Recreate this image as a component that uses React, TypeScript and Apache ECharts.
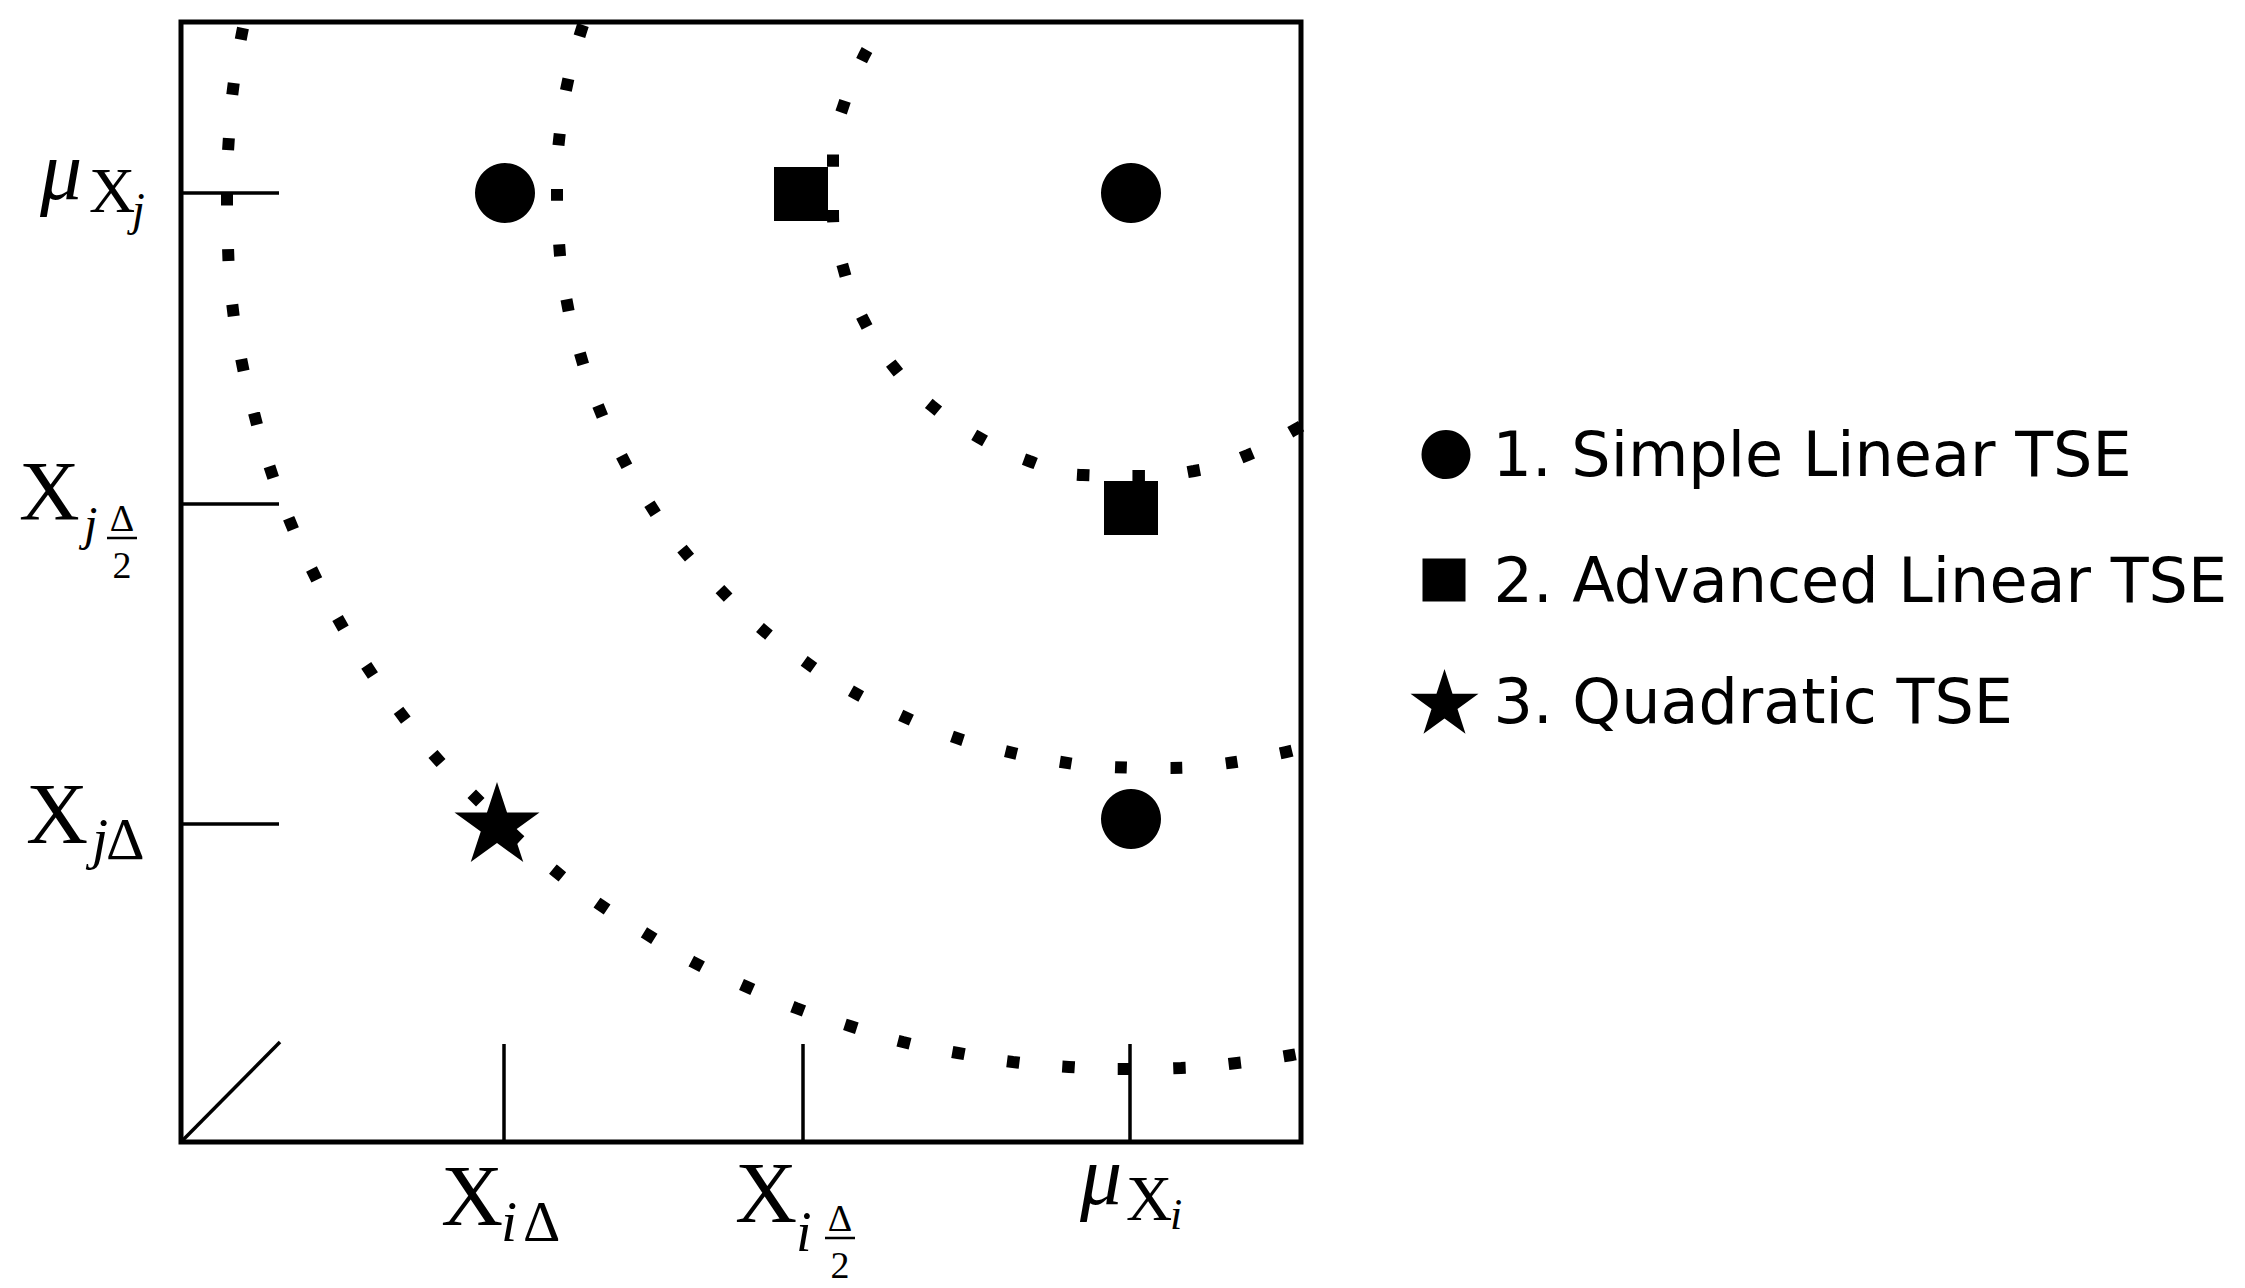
import { useEffect, useRef } from "react";
import * as echarts from "echarts";

// ---------- data (box units 0..112) ----------
const xTickValues = [32.3, 62.2, 94.9]; // X_iΔ, X_iΔ/2, μ_Xi
const yTickValues = [31.8, 63.8, 94.9]; // X_jΔ, X_jΔ/2, μ_Xj
const xTickNames = ["X_{iΔ}", "X_{iΔ/2}", "μ_{X_i}"];
const yTickNames = ["X_{jΔ}", "X_{jΔ/2}", "μ_{X_j}"];

const seriesNames = ["1. Simple Linear TSE", "2. Advanced Linear TSE", "3. Quadratic TSE"];
const simpleLinearPoints = [
  [32.4, 94.9],
  [95.0, 94.9],
  [95.0, 32.3],
];
const advancedLinearPoints = [
  [62.0, 94.8],
  [95.0, 63.4],
];
const quadraticPoints = [[31.6, 32.0]];

const outerCurve = [
  [6.2, 111.4], [5.3, 106.1], [4.8, 100.6], [4.6, 95.1], [4.7, 89.5], [5.1, 84.0],
  [6.0, 78.4], [7.3, 72.9], [8.8, 67.7], [10.8, 62.3], [13.0, 57.4], [15.6, 52.5],
  [18.5, 47.7], [21.8, 43.1], [25.2, 38.8], [29.0, 34.9], [33.1, 30.9], [37.3, 27.2],
  [41.8, 23.8], [46.4, 20.9], [51.2, 18.0], [56.4, 15.6], [61.5, 13.4], [66.9, 11.6],
  [72.2, 10.0], [77.7, 8.9], [83.2, 8.0], [88.8, 7.5], [94.4, 7.3], [100.0, 7.4],
  [105.6, 7.9], [111.1, 8.7], [112.5, 9.0],
];
const middleCurve = [
  [40.2, 111.7], [38.8, 106.6], [37.9, 101.1], [37.6, 95.6], [37.8, 90.0], [38.5, 84.5],
  [39.8, 79.2], [41.6, 73.9], [43.9, 68.9], [46.6, 64.2], [49.8, 59.7], [53.5, 55.7],
  [57.5, 51.8], [61.9, 48.4], [66.5, 45.4], [71.5, 42.9], [76.7, 40.7], [82.0, 39.2],
  [87.4, 38.1], [93.0, 37.5], [98.5, 37.4], [104.0, 37.8], [109.6, 38.8], [112.5, 39.5],
];
const innerCurve = [
  [68.6, 109.2], [66.4, 104.1], [65.2, 98.6], [65.2, 93.1], [66.2, 87.5], [68.2, 82.3],
  [71.2, 77.6], [75.1, 73.6], [79.7, 70.5], [84.8, 68.1], [90.2, 66.7], [95.8, 66.6],
  [101.3, 67.1], [106.7, 68.7], [111.5, 71.3], [112.5, 71.9],
];
const originSegment = [
  [0, 0],
  [9.9, 10.0],
];

// ---------- tick label typography ----------
// run: [text, dx, dy(baseline), fontSize, italic, align]
type Run = [string, number, number, number, boolean, "left" | "center"];
type Bar = [number, number, number];
type LabelLayout = { runs: Run[]; bars: Bar[] };

// dx relative to grid left, dy relative to tick y (order follows yTickValues)
const yLabelLayouts: LabelLayout[] = [
  {
    runs: [
      ["X", -155, 19, 86, false, "left"],
      ["j", -89, 34, 58, true, "left"],
      ["Δ", -75, 35, 60, false, "left"],
    ],
    bars: [],
  },
  {
    runs: [
      ["X", -162, 16, 84, false, "left"],
      ["j", -97, 36, 48, true, "left"],
      ["Δ", -59, 27, 38, false, "center"],
      ["2", -59, 74, 38, false, "center"],
    ],
    bars: [[-74, -44, 34]],
  },
  {
    runs: [
      ["μ", -141, 6, 84, true, "left"],
      ["X", -92, 19, 64, false, "left"],
      ["j", -49, 32, 46, true, "left"],
    ],
    bars: [],
  },
];

// dx relative to tick x, dy relative to grid bottom (order follows xTickValues)
const xLabelLayouts: LabelLayout[] = [
  {
    runs: [
      ["X", -63, 83, 86, false, "left"],
      ["i", -3, 99, 58, true, "left"],
      ["Δ", 19, 99, 58, false, "left"],
    ],
    bars: [],
  },
  {
    runs: [
      ["X", -68, 80, 86, false, "left"],
      ["i", -7, 109, 56, true, "left"],
      ["Δ", 37, 89, 38, false, "center"],
      ["2", 37, 136, 38, false, "center"],
    ],
    bars: [[22, 52, 96]],
  },
  {
    runs: [
      ["μ", -50, 62, 84, true, "left"],
      ["X", -4, 78, 64, false, "left"],
      ["i", 40, 87, 44, true, "left"],
    ],
    bars: [],
  },
];

const SERIF = '"Liberation Serif", "Times New Roman", serif';
const SANS = '"DejaVu Sans", Verdana, sans-serif';
const STAR =
  "path://M50 0 L61.23 34.55 L97.55 34.55 L68.17 55.9 L79.39 90.45 L50 69.1 L20.61 90.45 L31.83 55.9 L2.45 34.55 L38.77 34.55 Z";

function runElement(run: Run, ox: number, oy: number) {
  const [text, dx, dy, size, italic, align] = run;
  const baseline = oy + dy;
  const style: any = {
    text,
    fontFamily: SERIF,
    fontSize: size,
    fontStyle: italic ? "italic" : "normal",
    fill: "#000",
    align,
    textAlign: align,
    verticalAlign: "middle",
    textVerticalAlign: "middle",
  };
  return {
    type: "text",
    silent: true,
    x: ox + dx,
    y: baseline - 0.3375 * size,
    style,
  };
}

function barElement(bar: Bar, ox: number, oy: number) {
  return {
    type: "line",
    silent: true,
    shape: { x1: ox + bar[0], y1: oy + bar[2], x2: ox + bar[1], y2: oy + bar[2] },
    style: { stroke: "#000", lineWidth: 2.5 },
  };
}

const dotted = {
  color: "#000",
  width: 12,
  type: [12, 43.5],
  cap: "butt",
};

const legendText = { fontFamily: SANS, fontSize: 62, color: "#000", lineHeight: 62 };

export default function App() {
  const ref = useRef<HTMLDivElement>(null);

  useEffect(() => {
    document.body.style.margin = "0";
    document.body.style.overflow = "hidden";
    const chart = echarts.init(ref.current!, null, { renderer: "svg" });
    const option: any = {
      animation: false,
      backgroundColor: "#fff",
      grid: {
        left: 181,
        top: 22,
        width: 1120,
        height: 1120,
        show: true,
        borderColor: "#000",
        borderWidth: 5,
        backgroundColor: "transparent",
      },
      xAxis: {
        type: "value",
        min: 0,
        max: 112,
        axisLine: { show: false },
        splitLine: { show: false },
        axisLabel: { show: false },
        axisTick: {
          show: true,
          inside: true,
          length: 98,
          customValues: xTickValues,
          lineStyle: { color: "#000", width: 3.5 },
        },
      },
      yAxis: {
        type: "value",
        min: 0,
        max: 112,
        axisLine: { show: false },
        splitLine: { show: false },
        axisLabel: { show: false },
        axisTick: {
          show: true,
          inside: true,
          length: 98,
          customValues: yTickValues,
          lineStyle: { color: "#000", width: 3.5 },
        },
      },
      legend: [
        {
          data: [{ name: seriesNames[0], icon: "circle" }],
          left: 1421.5,
          top: 423.5,
          padding: 0,
          itemWidth: 49,
          itemHeight: 49,
          selectedMode: false,
          textStyle: { ...legendText, padding: [0, 0, 0, 17] },
        },
        {
          data: [{ name: seriesNames[1], icon: "rect" }],
          left: 1422.5,
          top: 549,
          padding: 0,
          itemWidth: 43,
          itemHeight: 43,
          selectedMode: false,
          textStyle: { ...legendText, padding: [0, 0, 0, 23] },
        },
        {
          data: [{ name: seriesNames[2], icon: STAR }],
          left: 1410.5,
          top: 669,
          padding: 0,
          itemWidth: 68,
          itemHeight: 65,
          selectedMode: false,
          textStyle: { ...legendText, padding: [0, 0, 0, 10] },
        },
      ],
      series: [
        {
          type: "line",
          data: outerCurve,
          smooth: true,
          symbol: "none",
          silent: true,
          lineStyle: dotted,
          z: 2,
        },
        {
          type: "line",
          data: middleCurve,
          smooth: true,
          symbol: "none",
          silent: true,
          lineStyle: dotted,
          z: 2,
        },
        {
          type: "line",
          data: innerCurve,
          smooth: true,
          symbol: "none",
          silent: true,
          lineStyle: dotted,
          z: 2,
        },
        {
          type: "line",
          data: originSegment,
          symbol: "none",
          silent: true,
          lineStyle: { color: "#000", width: 3.5, type: "solid" },
          z: 2,
        },
        {
          name: seriesNames[0],
          type: "scatter",
          data: simpleLinearPoints,
          symbol: "circle",
          symbolSize: 60,
          itemStyle: { color: "#000", opacity: 1 },
          silent: true,
          z: 3,
        },
        {
          name: seriesNames[1],
          type: "scatter",
          data: advancedLinearPoints,
          symbol: "rect",
          symbolSize: 54,
          itemStyle: { color: "#000", opacity: 1 },
          silent: true,
          z: 3,
        },
        {
          name: seriesNames[2],
          type: "scatter",
          data: quadraticPoints,
          symbol: STAR,
          symbolSize: [85, 80],
          itemStyle: { color: "#000", opacity: 1 },
          silent: true,
          z: 3,
        },
      ],
    };
    chart.setOption(option);

    const gx = chart.convertToPixel({ xAxisIndex: 0 }, 0) as unknown as number;
    const gb = chart.convertToPixel({ yAxisIndex: 0 }, 0) as unknown as number;
    const elements: any[] = [];
    yTickValues.forEach((v, i) => {
      const ty = chart.convertToPixel({ yAxisIndex: 0 }, v) as unknown as number;
      const lay = yLabelLayouts[i];
      lay.runs.forEach((r) => elements.push(runElement(r, gx, ty)));
      lay.bars.forEach((b) => elements.push(barElement(b, gx, ty)));
    });
    xTickValues.forEach((v, i) => {
      const tx = chart.convertToPixel({ xAxisIndex: 0 }, v) as unknown as number;
      const lay = xLabelLayouts[i];
      lay.runs.forEach((r) => elements.push(runElement(r, tx, gb)));
      lay.bars.forEach((b) => elements.push(barElement(b, tx, gb)));
    });
    chart.setOption({ graphic: elements });

    return () => chart.dispose();
  }, []);

  return (
    <div
      ref={ref}
      data-x-ticks={xTickNames.join(",")}
      data-y-ticks={yTickNames.join(",")}
      style={{ width: 2245, height: 1288 }}
    />
  );
}
